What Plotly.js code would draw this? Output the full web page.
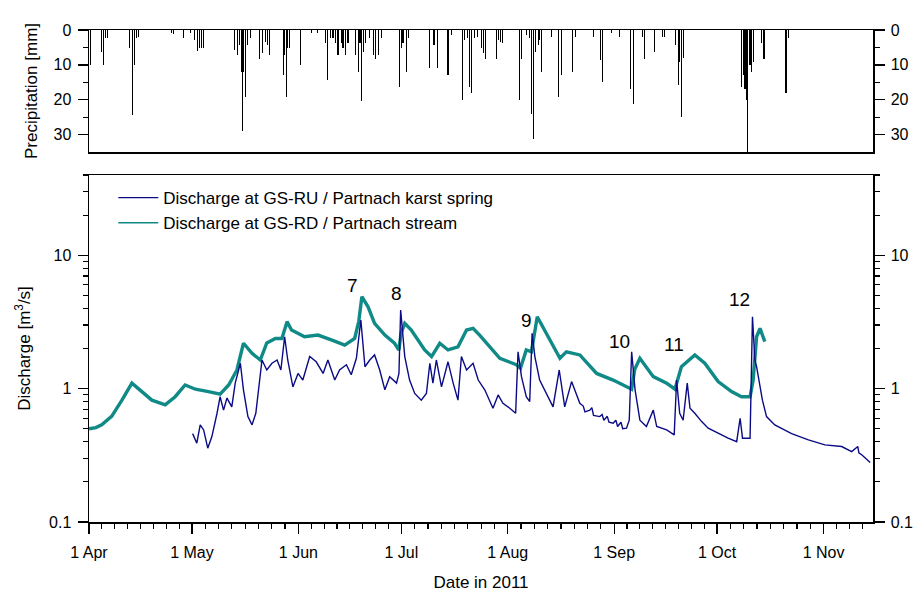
<!DOCTYPE html>
<html>
<head>
<meta charset="utf-8">
<script src="https://cdn.plot.ly/plotly-3.0.1.min.js"></script>
<style>html,body{margin:0;padding:0;background:#fff;}#chart{width:916px;height:592px;}</style>
</head>
<body>
<div id="chart"></div>
<script>
// ---- Data (x values are days after 1 Apr 2011 00:00) ----
const streamDay = [0,2,3.7,6.6,9.6,12.5,15.4,18.3,22.2,25.1,28,31,34.8,38.2,40.7,43.1,45,47.5,49.9,51.8,54.3,56.2,57.7,59,62.8,66.7,70.6,74.5,77.4,78.6,79.5,81.3,83.2,86.2,89,90.3,90.9,92,93.9,97.8,99.8,102.2,104.6,107.5,110,111.9,113.8,116.8,119.7,124.5,125.7,127.4,128.9,130.6,133.3,137.2,139.1,143,147.9,152.7,158.1,159,160.5,164.4,168.3,170.7,172.6,176.5,179.4,183.3,187.2,190.1,192.6,193.5,194.5,195.5,196.9];
const streamQ   = [0.50,0.51,0.535,0.62,0.82,1.10,0.95,0.82,0.755,0.87,1.065,0.99,0.95,0.91,1.065,1.38,2.19,1.84,1.64,2.2,2.38,2.38,3.18,2.75,2.45,2.52,2.32,2.12,2.38,3.2,4.89,4.11,3.09,2.52,2.19,1.95,2.6,3.09,2.75,1.95,1.74,2.19,1.95,2.06,2.75,2.83,2.52,2.06,1.69,1.51,1.42,1.95,1.89,3.46,2.6,1.69,1.89,1.79,1.30,1.16,0.99,1.4,1.69,1.23,1.10,0.99,1.46,1.79,1.55,1.13,0.95,0.87,0.87,1.16,2.45,2.83,2.25];

const springDay = [30.2,31.4,32.4,33.4,34.6,35.8,37.3,38.2,39.2,40.2,41.6,42.6,44.1,45,46.3,47.5,48.6,49.6,50.4,51.8,53.3,54.8,55.9,57,57.9,59.4,60.9,62.3,64.3,66.2,68.2,69.6,71.6,73,75,76.4,77.9,79.2,80.4,81.8,83.2,84.7,86.2,87.6,89.6,90.3,90.8,92,93.4,94.9,96.8,98.3,99.3,100.2,101.2,102.7,104.6,106.1,107.5,108.5,110,111.9,113.4,115.3,117.7,119.2,120.6,122.6,124.3,125,126,127.4,128.4,129.1,129.9,131.3,133.3,135.2,137,138.6,140.6,143,144,144.5,145.9,146.5,147,148.8,149.5,150,151,151.5,152.7,153.5,154,155,155.5,156.6,157.4,158.1,159.1,160.5,162.4,164.4,165.4,168.3,170.5,171.2,172.1,173.1,174.3,175.1,176.5,178.5,180.4,183.3,186.2,188.7,189.7,190.4,192.6,193.3,194,194.5,195.5,196.2,197.4,199.8,204.7,209.6,214.4,219.3,222.2,224,224.3,225.2,227.6];
const springQ   = [0.46,0.39,0.535,0.49,0.358,0.437,0.654,0.87,0.69,0.85,0.73,1.10,1.55,0.98,0.617,0.535,0.654,1.16,1.64,1.38,1.55,1.64,1.38,2.45,1.64,1.03,1.30,1.16,1.74,1.59,1.30,1.64,1.16,1.38,1.51,1.27,1.69,3.27,1.46,1.64,1.79,1.38,0.98,1.23,1.10,1.30,3.89,1.74,1.16,0.92,0.82,0.92,1.55,1.10,1.64,1.03,1.59,1.10,0.82,1.74,1.38,1.55,1.16,0.98,0.713,0.897,0.777,0.713,0.654,1.89,1.23,0.87,0.80,2.6,1.74,1.16,0.92,0.73,1.38,0.73,1.13,0.777,0.74,0.67,0.69,0.72,0.63,0.617,0.64,0.58,0.62,0.56,0.55,0.58,0.52,0.56,0.50,0.505,0.58,1.89,0.98,0.58,0.52,0.69,0.52,0.49,0.45,1.16,0.654,0.58,1.10,0.713,0.654,0.566,0.505,0.46,0.425,0.40,0.60,0.425,0.425,3.46,1.64,1.46,1.03,0.82,0.617,0.535,0.46,0.413,0.379,0.368,0.337,0.368,0.33,0.318,0.279];

const rainDay = [0.44,3.73,4.23,4.72,5.48,11.8,12.6,13.27,13.76,14.43,23.97,24.72,27.55,29.59,30.76,31.55,32.3,32.89,33.38,42.42,43.21,43.88,44.37,44.75,45.13,45.71,46.3,47.0,49.71,50.5,51.46,51.95,52.54,56.71,57.0,57.49,57.96,58.45,61.66,64.78,66.62,68.86,69.45,70.41,71.08,71.78,72.54,73.53,74.0,74.78,75.45,77.61,78.57,78.95,79.36,79.94,80.52,81.78,82.86,83.44,84.4,85.19,90.52,91.02,91.49,92.48,93.15,99.27,100.52,101.52,104.6,105.6,108.8,109.48,110.35,110.93,111.43,112.39,113.27,114.34,115.01,115.6,118.72,119.39,119.88,120.47,125.51,126.0,127.46,128.43,129.01,129.59,130.17,130.85,131.34,131.84,134.84,136.79,137.55,140.87,141.84,146.88,149.04,149.62,152.24,154.66,157.78,158.54,161.28,161.87,164.87,167.11,167.78,170.99,171.66,172.16,172.65,173.12,190.15,190.61,191.11,191.6,191.9,192.57,193.06,193.73,195.98,196.65,203.06,203.73];
const rainMM  = [10,6.2,10,2.4,2.2,5.3,24.3,10,2.4,1.9,1,1.2,2.2,1,3,6.1,5.3,5.3,5.3,5.8,7.2,4.3,12,29.1,12,19.2,4.3,2.4,8.2,6.7,3.4,4.3,7.2,13,7.2,19.2,5.3,5.3,10,1,0.8,3.8,14.2,2.4,2.4,3.8,7.2,3.8,5.3,7.2,3.8,7.2,12,3.8,20.5,6.2,3.8,2.4,7.2,8.2,7.2,2.4,16.3,5.3,3.8,12,2.4,11,4.3,11,13,1.4,20.2,3,2.4,16.3,18.2,2.4,1.9,5.3,6.7,8.2,8.2,3,3.4,3.8,20.2,8.2,1.4,2.4,24,31.2,6.2,4.3,3,12,1.9,19.2,13,12,1.9,1.9,8.7,14.9,0.8,1.9,16.8,21.1,1.9,8.2,6.2,1.9,1.9,4.3,15.9,9.2,25,8,16.3,13,16.8,20.2,36,10,12,9.2,3.8,8.2,18.2,2.4];

const eventLabels = ['7','8','9','10','11','12'];
const eventDay    = [76.7,89.6,127.5,154.7,170.4,189.6];
const eventQ      = [5.98,5.17,3.27,2.25,2.16,4.70];

const seriesNames = ['Discharge at GS-RU / Partnach karst spring','Discharge at GS-RD / Partnach stream'];

const monthTickDates  = ['2011-04-01','2011-05-01','2011-06-01','2011-07-01','2011-08-01','2011-09-01','2011-10-01','2011-11-01'];
const monthTickLabels = ['1 Apr','1 May','1 Jun','1 Jul','1 Aug','1 Sep','1 Oct','1 Nov'];

// ---- helpers ----
const BASE = Date.UTC(2011,3,1);
function toDate(d){
  const t = new Date(BASE + d*86400000);
  const p = n => String(n).padStart(2,'0');
  return t.getUTCFullYear()+'-'+p(t.getUTCMonth()+1)+'-'+p(t.getUTCDate())+' '+p(t.getUTCHours())+':'+p(t.getUTCMinutes());
}
// minor x ticks: 8 subdivisions per month
const minorX = [];
const monthStarts = [[2011,3],[2011,4],[2011,5],[2011,6],[2011,7],[2011,8],[2011,9],[2011,10],[2011,11]];
for (let i=0;i<monthStarts.length-1;i++){
  const a = Date.UTC(...monthStarts[i],1), b = Date.UTC(...monthStarts[i+1],1);
  for (let k=1;k<8;k++) minorX.push(toDate((a + (b-a)*k/8 - BASE)/86400000));
}
const minorLogY = [];
[0.1,1,10].forEach(dec=>{for(let m=2;m<=9;m++){const v=dec*m; if(v<=40) minorLogY.push(+v.toFixed(3));}});

const FONT = 'Liberation Sans, Arial, sans-serif';
const BLACK = '#000';
const NAVY = '#0b0b85', TEAL = '#108a87';

const data = [
  {type:'bar', x: rainDay.map(toDate), y: rainMM, xaxis:'x2', yaxis:'y2',
   marker:{color:BLACK, line:{width:0}}, width: 0.32*86400000, showlegend:false, hoverinfo:'skip'},
  {type:'scatter', mode:'lines', x: streamDay.map(toDate), y: streamQ, xaxis:'x', yaxis:'y',
   line:{color:TEAL, width:3.4}, showlegend:false},
  {type:'scatter', mode:'lines', x: springDay.map(toDate), y: springQ, xaxis:'x', yaxis:'y',
   line:{color:NAVY, width:1.4}, showlegend:false},
  // legend-only entries (thin sample lines as in the reference)
  {type:'scatter', mode:'lines', name:seriesNames[0], x:[null], y:[null], xaxis:'x', yaxis:'y', line:{color:NAVY, width:1.4}},
  {type:'scatter', mode:'lines', name:seriesNames[1], x:[null], y:[null], xaxis:'x', yaxis:'y', line:{color:TEAL, width:1.4}},
  {type:'scatter', x:[], y:[], xaxis:'x', yaxis:'y3', showlegend:false},
  {type:'scatter', x:[], y:[], xaxis:'x2', yaxis:'y4', showlegend:false}
];

const xRange = ['2011-04-01 00:00','2011-11-15 10:00'];
const axBase = {showline:true, linecolor:BLACK, linewidth:1.5, ticks:'outside', ticklen:10, tickwidth:1.3, tickcolor:BLACK,
  showgrid:false, zeroline:false, tickfont:{family:FONT, size:16, color:BLACK}};
const botTop = (522-175)/492, topBot = (522-152)/492;
const logY = {type:'log', range:[-1, Math.log10(40)], tickmode:'array', tickvals:[0.1,1,10], ticktext:['0.1','1','10'],
  ticklabelstandoff:3,
  minor:{tickmode:'array', tickvals:minorLogY, ticks:'outside', ticklen:5, tickwidth:1.2, tickcolor:BLACK}};
const precY = {range:[35,0], tickmode:'array', tickvals:[0,10,20,30], ticklabelstandoff:3,
  minor:{tickmode:'array', tickvals:[5,15,25], ticks:'outside', ticklen:5, tickwidth:1.2, tickcolor:BLACK}};

const layout = {
  width:916, height:592, margin:{l:89, r:43, t:30, b:70},
  paper_bgcolor:'#fff', plot_bgcolor:'#fff', font:{family:FONT, color:BLACK},
  bargap:0,
  xaxis: Object.assign({}, axBase, {anchor:'y', domain:[0,1], type:'date', range:xRange, mirror:true,
    tickmode:'array', tickvals:monthTickDates, ticktext:monthTickLabels, ticklabelstandoff:5,
    minor:{tickmode:'array', tickvals:minorX, ticks:'outside', ticklen:5, tickwidth:1.2, tickcolor:BLACK},
    title:{text:'Date in 2011', font:{family:FONT, size:17}, standoff:16}}),
  xaxis2: {anchor:'y2', domain:[0,1], type:'date', range:xRange, matches:'x', showline:true, mirror:true,
    linecolor:BLACK, linewidth:1.5, ticks:'', showticklabels:false, showgrid:false, zeroline:false},
  yaxis: Object.assign({}, axBase, logY, {domain:[0,botTop], anchor:'x',
    title:{text:'Discharge [m<sup>3</sup>/s]', font:{family:FONT, size:17}, standoff:14}}),
  yaxis3: Object.assign({}, axBase, logY, {domain:[0,botTop], anchor:'x', overlaying:'y', side:'right'}),
  yaxis2: Object.assign({}, axBase, precY, {domain:[topBot,1], anchor:'x2',
    title:{text:'Precipitation [mm]', font:{family:FONT, size:17}, standoff:11}}),
  yaxis4: Object.assign({}, axBase, precY, {domain:[topBot,1], anchor:'x2', overlaying:'y2', side:'right'}),
  legend:{x:0.031, y:0.695, xanchor:'left', yanchor:'top', bgcolor:'rgba(0,0,0,0)', borderwidth:0,
    font:{family:FONT, size:17, color:BLACK}, tracegroupgap:0, itemwidth:40},
  annotations: eventLabels.map((t,i)=>({text:t, x:toDate(eventDay[i]), y:Math.log10(eventQ[i]), xref:'x', yref:'y',
    showarrow:false, font:{family:FONT, size:19, color:BLACK}})),
  showlegend:true
};

Plotly.newPlot('chart', data, layout, {displayModeBar:false, staticPlot:true});
</script>
</body>
</html>
